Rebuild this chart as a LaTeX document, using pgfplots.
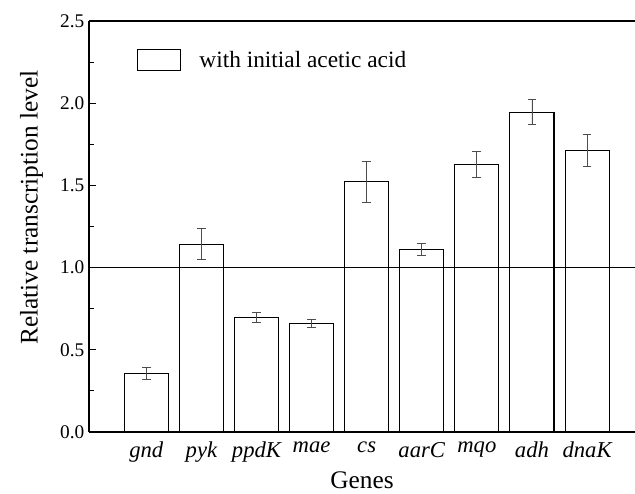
\documentclass[border=0pt]{standalone}
\usepackage{fontspec}
\setmainfont{Liberation Serif}
\usepackage{pgfplots}
\pgfplotsset{compat=1.18}
\begin{document}
\begin{tikzpicture}
\begin{axis}[
  scale only axis,
  width=409.5pt, height=308.25pt,
  xmin=-1.04, xmax=8.87,
  ymin=0, ymax=2.5,
  axis x line*=box,
  axis y line*=left,
  axis line style={line width=0.9pt},
  ybar, bar width=0.8,
  xtick=data,
  xticklabels={gnd,pyk,ppdK,mae,cs,aarC,mqo,adh,dnaK},
  xticklabel style={font=\fontsize{17}{19}\selectfont\itshape, yshift=-4pt},
  xtick style={draw=none},
  ytick={0,0.5,1,1.5,2,2.5},
  minor y tick num=1,
  tick align=inside,
  ytick pos=left,
  major tick length=5pt,
  minor tick length=3.5pt,
  tick style={line width=0.7pt, black},
  yticklabel style={font=\fontsize{14.5}{16}\selectfont},
  /pgf/number format/assume math mode=true,
  yticklabel={\pgfmathprintnumber[fixed,fixed zerofill,precision=1]{\tick}},
  xlabel={Genes},
  ylabel={Relative transcription level},
  label style={font=\fontsize{19}{21}\selectfont},
  xlabel style={at={(axis description cs:0.5,0)}, anchor=north, yshift=-26pt},
  ylabel style={at={(axis description cs:0,0.546)}, anchor=south, yshift=31pt},
  legend style={draw=none, fill=none, at={(axis cs:-0.18,2.263)}, anchor=west,
    font=\fontsize{17.5}{19}\selectfont, inner sep=0pt},
  legend image code/.code={\draw[black, line width=0.7pt, fill=white] (0cm,-0.27cm) rectangle (1.14cm,0.27cm);},
  legend cell align=left,
  error bars/error bar style={gray!60!black, line width=0.7pt},
  error bars/error mark options={rotate=90, mark size=3.3pt, gray!60!black, line width=0.7pt},
]
\addplot[draw=black, fill=white, line width=0.8pt,
  error bars/.cd, y dir=both, y explicit]
  coordinates {
  (0,0.355) +- (0,0.037)
  (1,1.142) +- (0,0.095)
  (2,0.698) +- (0,0.030)
  (3,0.659) +- (0,0.024)
  (4,1.523) +- (0,0.125)
  (5,1.109) +- (0,0.036)
  (6,1.628) +- (0,0.080)
  (7,1.946) +- (0,0.074)
  (8,1.715) +- (0,0.097)
  };
\addlegendentry{\hspace{12pt}with initial acetic acid}
\addplot[black, line width=1pt, sharp plot, no marks, forget plot] coordinates {(-1.04,1) (8.87,1)};
\end{axis}
\pgfresetboundingbox
\path[use as bounding box] ([shift={(-66.75pt,-45.75pt)}]current axis.south west) rectangle ([shift={(0pt,15.75pt)}]current axis.north east);
\end{tikzpicture}
\end{document}
